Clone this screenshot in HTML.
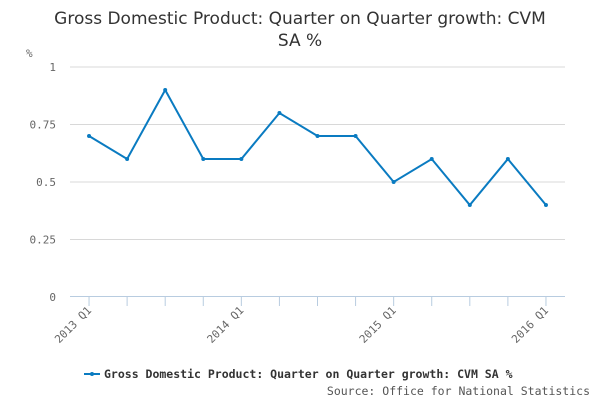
<!DOCTYPE html>
<html><head><meta charset="utf-8"><style>
body{margin:0;background:#fff;}
svg{display:block;}
</style></head><body>
<svg id="chart" width="600" height="400" xmlns="http://www.w3.org/2000/svg">
<text x="300" y="24" text-anchor="middle" font-family="DejaVu Sans, Liberation Sans, sans-serif" font-size="17" fill="#333">Gross Domestic Product: Quarter on Quarter growth: CVM</text>
<text x="300" y="46" text-anchor="middle" font-family="DejaVu Sans, Liberation Sans, sans-serif" font-size="17" fill="#333">SA %</text>
<text x="26" y="57" font-family="DejaVu Sans Mono, Liberation Mono, monospace" font-size="11" fill="#666">%</text>
<g id="grid"></g><g id="xaxis"></g><g id="series"></g>
<g>
<line x1="84" y1="374" x2="100" y2="374" stroke="#0a7bc1" stroke-width="2"/>
<circle cx="92" cy="374" r="2" fill="#0a7bc1"/>
<text x="104" y="378" font-family="DejaVu Sans Mono, Liberation Mono, monospace" font-size="11.5" font-weight="bold" fill="#333">Gross Domestic Product: Quarter on Quarter growth: CVM SA %</text>
</g>
<text x="590" y="395" text-anchor="end" font-family="DejaVu Sans Mono, Liberation Mono, monospace" font-size="11.5" fill="#555">Source: Office for National Statistics</text>
</svg>
<script>
const categories=["2013 Q1","2013 Q2","2013 Q3","2013 Q4","2014 Q1","2014 Q2","2014 Q3","2014 Q4","2015 Q1","2015 Q2","2015 Q3","2015 Q4","2016 Q1"];
const values=[0.7,0.6,0.9,0.6,0.6,0.8,0.7,0.7,0.5,0.6,0.4,0.6,0.4];
const yTicks=[0,0.25,0.5,0.75,1];
const yTickLabels=["0","0.25","0.5","0.75","1"];
const xLabelIdx=[0,4,8,12];
const xLabels=["2013 Q1","2014 Q1","2015 Q1","2016 Q1"];
const NS="http://www.w3.org/2000/svg";
const L=70,R=565,T=67,B=297;
const band=(R-L)/categories.length;
function x(i){return L+band*(i+0.5);}
function y(v){return B-(v/1)*(B-T);}
function mk(tag,attrs,parent){const e=document.createElementNS(NS,tag);for(const k in attrs)e.setAttribute(k,attrs[k]);parent.appendChild(e);return e;}
const grid=document.getElementById('grid');
yTicks.forEach((t,i)=>{
 if(t!==0){const g=mk('line',{x1:L,x2:R,y1:y(t),y2:y(t),stroke:'#d8d8d8','stroke-width':1},grid);
 
 }
 const tx=mk('text',{x:56,y:y(t)+4,'text-anchor':'end','font-family':'DejaVu Sans Mono, Liberation Mono, monospace','font-size':11,fill:'#666'},grid);
 tx.textContent=yTickLabels[i];
 
 
});
const xa=document.getElementById('xaxis');
const ax=mk('line',{x1:L,x2:R,y1:B-0.5,y2:B-0.5,stroke:'#b8cce0','stroke-width':1},xa);


categories.forEach((c,i)=>{
 const tk=mk('line',{x1:x(i),x2:x(i),y1:B,y2:B+9,stroke:'#b8cce0','stroke-width':1},xa);
 
 
});
xLabelIdx.forEach((ci,k)=>{
 const px=x(ci)+3,py=B+14;
 const tx=mk('text',{x:px,y:py,'text-anchor':'end',transform:`rotate(-45 ${px} ${py})`,'font-family':'DejaVu Sans Mono, Liberation Mono, monospace','font-size':11,fill:'#666'},xa);
 tx.textContent=xLabels[k];
 
 
});
const s=document.getElementById('series');
const pl=mk('polyline',{points:values.map((v,i)=>x(i)+','+y(v)).join(' '),fill:'none',stroke:'#0a7bc1','stroke-width':2},s);


values.forEach((v,i)=>{
 const c=mk('circle',{cx:x(i),cy:y(v),r:2,fill:'#0a7bc1'},s);
 
 
});
</script>
</body></html>
